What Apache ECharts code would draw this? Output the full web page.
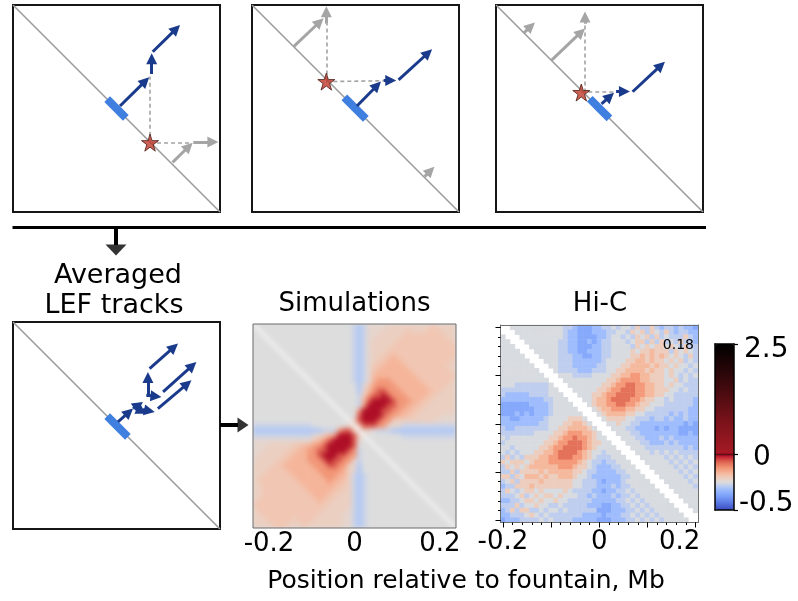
<!DOCTYPE html>
<html>
<head>
<meta charset="utf-8">
<title>Fountain LEF tracks</title>
<script src="https://cdn.jsdelivr.net/npm/echarts@6/dist/echarts.min.js"></script>
<style>
  html, body { margin: 0; padding: 0; background: #ffffff; }
  #stage { position: relative; width: 798px; height: 601px; }
  #simClip { position: absolute; left: 253px; top: 324px; width: 203px; height: 204px; overflow: hidden; }
  #sim { position: absolute; left: -6px; top: -6px; width: 215px; height: 216px; background: #dcdcdc; filter: blur(2.8px); }
  #main { position: absolute; left: 0; top: 0; width: 798px; height: 601px; }
</style>
</head>
<body>
<div id="stage">
  <div id="simClip"><div id="sim"></div></div>
  <div id="main"></div>
</div>
<script>
// ---------------- schematic frames (units 0..100, y grows downward) ----------------
const panelDiagonal = [[0, 0], [100, 100]];

// frame 1
const lefA = [[45.5, 45.5], [54.5, 54.5]];
const starA = [66.2, 66.5];
const tracksA = [[[51.7, 48.8], [65.8, 34.9]], [[67, 33.3], [67, 23.3]], [[67.5, 22.6], [80.7, 9.7]]];
const shadowA = [[[87.1, 66.2], [99.2, 66.2]], [[77.1, 76], [86.8, 66.5]]];
const guidesA = [[[66.2, 66.5], [66.2, 34.6]], [[66.2, 66.5], [86.3, 66.5]]];

// frame 2
const lefB = [[44.6, 44.6], [55, 55]];
const starB = [35.9, 37];
const tracksB = [[[50.7, 48.8], [62.3, 37]], [[63.6, 36.5], [69.7, 36.5]], [[70.8, 36.2], [87, 21.4]]];
const shadowB = [[[20.1, 20.1], [34.6, 6.4]], [[35.9, 9], [35.9, 0.6]], [[83.4, 82.9], [88.1, 78.1]]];
const guidesB = [[[35.9, 37], [35.9, 9]], [[35.9, 37], [63.6, 36.6]]];

// frame 3
const lefC = [[45.3, 45.3], [54.8, 54.8]];
const starC = [41.2, 42.3];
const tracksC = [[[51, 47.8], [57, 42.4]], [[58, 41.8], [64.7, 41.8]], [[66, 41.9], [81.6, 27.4]]];
const shadowC = [[[13.2, 13.7], [18.8, 8.5]], [[26.9, 26.6], [43, 11.3]], [[43, 9], [43, 3.2]]];
const guidesC = [[[42.7, 42.3], [42.7, 9]], [[41.2, 41.8], [58, 41.8]]];

// averaged frame
const lefD = [[45.5, 45.5], [55.5, 55.5]];
const tracksD = [
  [[50.7, 48.3], [58, 41.8]], [[58, 41.8], [62.8, 38.6]], [[65.2, 36.2], [65.2, 24.2]],
  [[66, 22.5], [79.7, 10.4]], [[72.5, 33.8], [88.6, 19.3]], [[70, 41.8], [86.2, 28.2]],
  [[64.4, 35.4], [71.7, 36.2]], [[62.8, 42.3], [68.5, 43.5]], [[61.3, 43.5], [61.3, 39]]
];

// connectors in page pixels
const connectorLines = [[[12.5, 227], [706, 227]]];
const connectorShafts = [[[116, 227], [116, 245]], [[220, 425], [238, 425]]];
const connectorHeads = [[116, 250, 180, 21, 11], [243, 425, -90, 15, 11]];

// ---------------- contact maps ----------------
// colour-scale position: 0 = -0.5, 1 = 0, 3 = 2.5
const hicLevelValues = [0.15, 0.22, 0.29, 0.37, 0.44, 0.49, 0.58, 0.66, 0.75, 0.84];
const simLevelValues = [0.41, 0.46, 0.50, 0.54, 0.57, 0.61, 0.67, 0.76, 0.89, 1.02];

// Hi-C upper triangle, row i starts at column i+2 (diagonal band masked)
const hicUpper = [
  "55555555555 4432223344 5455464464 34434332",
  "5555555555 4332223334 4554656465 46434433",
  "555555555 4332222334 5545465646 45444643",
  "55555554 4332232344 5554566464 64546443",
  "5555554 4332223344 5555465656 65654644",
  "555554 4332233344 5555656676 66465654",
  "55554 4433223344 5555667676 76565464",
  "5554 4433333345 5556677676 65656454",
  "554 4433333445 5566777767 66565545",
  "54 4443334445 5667777676 65655454",
  "5 5544445555 6677887766 65654545",
  "5555555556 6788887766 65564544",
  "555555566 7889988776 65655444",
  "55555667 8899988776 66554544",
  "5556678 8999988776 65544444",
  "556778 9999887665 54544443",
  "56778 8998876655 54444443",
  "5677 8887766554 44444433",
  "567 7776655444 44343433",
  "56 6665544434 43433433",
  "5 5655443333 33333232",
  "5554433332 32332222",
  "555443333 33332232",
  "55544333 43433333",
  "5554433 34343333",
  "555444 44444343",
  "55545 45454444",
  "5555 54545454",
  "555 55454545",
  "55 55545454",
  "5 55554545",
  "55555454",
  "5555545",
  "555554",
  "55555",
  "5555",
  "555",
  "55",
  "5",
  "",
  ""
];

// simulated map upper triangle, row i starts at the diagonal
const simUpper = [
  "2 22222 22222 22222 2222 101 333344444444454444",
  "2 22222 22222 22222 222 101 333444445444555444",
  "2 22222 22222 22222 22 101 334444455555555544",
  "2 22222 22222 22222 2 101 344444555555555554",
  "2 22222 22222 22222 101 344445555555555555",
  "2 22222 22222 2222 101 344455555555555555",
  "2 22222 22222 222 101 344556555555555555",
  "2 22222 22222 22 101 345566655555555554",
  "2 22222 22222 2 101 355666665555555544",
  "2 22222 22222 101 356666666555555554",
  "2 22222 2222 101 366666666655555555",
  "2 22222 222 101 367776666665555554",
  "2 22222 22 2 0 3 577777666666555544",
  "2 22222 2 2 0 3 678877766666655444",
  "2 22222 2 1 5 788987776666554444",
  "2 2222 2 1 6 899998777665544444",
  "2 222 2 1 7 999988776655444444",
  "2 22 2 7 9999887766554444444",
  "2 2 2 89999877665544444333",
  "2 4 89998774444444443333",
  "2 5 888 77 333 11111111111",
  "2 4 3 2 111 0000000000000",
  "2 2222222 11111111111",
  "22222 22222 22222 222",
  "22222 22222 22222 22",
  "22222 22222 22222 2",
  "22222 22222 22222",
  "22222 22222 2222",
  "22222 22222 222",
  "22222 22222 22",
  "22222 22222 2",
  "22222 22222",
  "22222 2222",
  "22222 222",
  "22222 22",
  "22222 2",
  "22222",
  "2222",
  "222",
  "22",
  "2"
];

const binCount = 41;
const simRange = [-0.2375, 0.2375];
const hicRange = [-0.205, 0.205];
const positionTicks = [-0.2, 0, 0.2];
const hicMajorTicks = [-0.2, -0.1, 0, 0.1, 0.2];
const hicMinorTicks = [-0.2, -0.18, -0.16, -0.14, -0.12, -0.1, -0.08, -0.06, -0.04, -0.02, 0,
  0.02, 0.04, 0.06, 0.08, 0.1, 0.12, 0.14, 0.16, 0.18, 0.2];
const colorbarTicks = [0, 1, 3];
const colorbarLabels = ['-0.5', '0', '2.5'];

// ---------------- colour map ----------------
const cmapAnchors = [
  [0.00, '#3b4cc0'], [0.125, '#5977e3'], [0.25, '#7b9ff9'], [0.375, '#9ebeff'],
  [0.50, '#dddddd'], [0.625, '#f5c4ac'], [0.75, '#f49a7b'], [0.875, '#de624e'],
  [1.00, '#b40426'], [1.05, '#a41a24'], [1.6, '#7a121a'], [2.2, '#420a0e'], [3.0, '#000000']
];
function hexRgb(h) { return [1, 3, 5].map(k => parseInt(h.slice(k, k + 2), 16)); }
function cmapAt(p) {
  for (let k = 0; k < cmapAnchors.length - 1; k++) {
    const [p0, c0] = cmapAnchors[k], [p1, c1] = cmapAnchors[k + 1];
    if (p <= p1 || k === cmapAnchors.length - 2) {
      const t = Math.min(1, Math.max(0, (p - p0) / (p1 - p0)));
      const a = hexRgb(c0), b = hexRgb(c1);
      return 'rgb(' + a.map((v, n) => Math.round(v + (b[n] - v) * t)).join(',') + ')';
    }
  }
}
const colorRamp = [];
for (let k = 0; k <= 60; k++) colorRamp.push(cmapAt(k * 0.05));

// ---------------- build cell lists ----------------
const bins = [];
for (let k = 0; k < binCount; k++) bins.push(String(k));

const hicData = [];
hicUpper.forEach((row, i) => {
  const s = row.replace(/\s+/g, '');
  if (s.length !== Math.max(0, binCount - 2 - i)) throw new Error('Hi-C row ' + i + ' has ' + s.length);
  for (let k = 0; k < s.length; k++) {
    const j = i + 2 + k, v = hicLevelValues[+s[k]];
    hicData.push([j, i, v], [i, j, v]);
  }
});

const simData = [];
simUpper.forEach((row, i) => {
  const s = row.replace(/\s+/g, '');
  if (s.length !== binCount - i) throw new Error('sim row ' + i + ' has ' + s.length);
  for (let k = 0; k < s.length; k++) {
    const j = i + k, v = simLevelValues[+s[k]];
    simData.push([j, i, v]);
    if (j !== i) simData.push([i, j, v]);
  }
});

// ---------------- shared styles ----------------
const FONT = '"DejaVu Sans", "Liberation Sans", Arial, sans-serif';
const NAVY = '#1a3a8c';
const GREY = '#a5a5a5';
const LEF_BLUE = '#3f7fe0';
const STAR = 'path://M50,2 L61.2,36.3 L97.6,36.3 L68.2,57.6 L79.4,92 L50,70.7 L20.6,92 L31.8,57.6 L2.4,36.3 L38.8,36.3 Z';
const PANEL_PX = 207;
const HEAD = 11;

// end point pulled back so the triangle tip sits on the drawn end
function arrowData(segs, unitsPerPx) {
  const back = HEAD / 2 * unitsPerPx;
  return segs.map(([a, b]) => {
    const dx = b[0] - a[0], dy = b[1] - a[1];
    const len = Math.hypot(dx, dy) || 1;
    const k = Math.max(0, len - back) / len;
    return { coords: [a, [a[0] + dx * k, a[1] + dy * k]] };
  });
}

// ---------------- main chart ----------------
const grids = [
  { left: 13, top: 5, width: 207, height: 207 },
  { left: 252, top: 5, width: 207, height: 207 },
  { left: 496, top: 5, width: 207, height: 207 },
  { left: 13, top: 322, width: 207, height: 207 },
  { left: 253, top: 324, width: 203, height: 204 },        // 4 simulation frame
  { left: 500.5, top: 325, width: 197.5, height: 197.5 },  // 5 Hi-C cells
  { left: 500.5, top: 325, width: 197.5, height: 197.5 },  // 6 Hi-C major ticks
  { left: 500.5, top: 325, width: 197.5, height: 197.5 },  // 7 Hi-C minor ticks
  { left: 715, top: 344, width: 19, height: 166 },         // 8 colour bar frame
  { left: 0, top: 0, width: 798, height: 601 }             // 9 page
];
grids.forEach((g, k) => {
  if (k < 4) Object.assign(g, { show: true, borderColor: '#161616', borderWidth: 2 });
  if (k === 4) Object.assign(g, { show: true, borderColor: '#6a6a6a', borderWidth: 1 });
});

const hidden = { show: false };
const noLine = { show: false, onZero: false };
const xAxes = [], yAxes = [];
function addAxes(x, y) { xAxes.push(x); yAxes.push(y); return xAxes.length - 1; }

const panelAxis = [];
for (let g = 0; g < 4; g++) {
  panelAxis.push(addAxes(
    { gridIndex: g, type: 'value', min: 0, max: 100, show: false },
    { gridIndex: g, type: 'value', min: 0, max: 100, inverse: true, show: false }));
}
// simulation labels
addAxes({
  gridIndex: 4, type: 'value', min: simRange[0], max: simRange[1], position: 'bottom',
  axisLine: noLine, splitLine: hidden, axisTick: hidden,
  axisLabel: { show: true, customValues: positionTicks, margin: 3, fontSize: 26, fontFamily: FONT, color: '#000',
    formatter: v => (Math.abs(v) < 1e-9 ? '0' : String(v)) }
}, { gridIndex: 4, type: 'value', min: 0, max: 1, show: false });
// Hi-C cells
const hicAxis = addAxes({ gridIndex: 5, type: 'category', data: bins, show: false },
  { gridIndex: 5, type: 'category', data: bins, inverse: true, show: false });
// Hi-C major ticks, labels and frame
const frameLine = { show: true, onZero: false, lineStyle: { color: '#6f6f6f', width: 1 } };
addAxes({
  gridIndex: 6, type: 'value', min: hicRange[0], max: hicRange[1], position: 'bottom', z: 5,
  axisLine: frameLine, splitLine: hidden,
  axisTick: { show: true, customValues: hicMajorTicks, length: 5, lineStyle: { color: '#000', width: 1 } },
  axisLabel: { show: true, customValues: positionTicks, margin: 7, fontSize: 26, fontFamily: FONT, color: '#000',
    formatter: v => (Math.abs(v) < 1e-9 ? '0' : (v > 0 ? '{r|' + v + '}' : String(v))),
    rich: { r: { fontSize: 26, fontFamily: FONT, color: '#000', padding: [0, 32, 0, 0] } } }
}, {
  gridIndex: 6, type: 'value', min: hicRange[0], max: hicRange[1], position: 'left', z: 5,
  axisLine: frameLine, splitLine: hidden, axisLabel: hidden,
  axisTick: { show: true, customValues: hicMajorTicks, length: 5, lineStyle: { color: '#000', width: 1 } }
});
addAxes({ gridIndex: 6, type: 'value', min: hicRange[0], max: hicRange[1], position: 'top', z: 5,
  axisLine: frameLine, splitLine: hidden, axisTick: hidden, axisLabel: hidden },
  { gridIndex: 6, type: 'value', min: hicRange[0], max: hicRange[1], position: 'right', z: 5,
  axisLine: frameLine, splitLine: hidden, axisTick: hidden, axisLabel: hidden });
// Hi-C minor ticks
addAxes({
  gridIndex: 7, type: 'value', min: hicRange[0], max: hicRange[1], position: 'bottom', z: 5,
  axisLine: noLine, splitLine: hidden, axisLabel: hidden,
  axisTick: { show: true, customValues: hicMinorTicks, length: 2.5, lineStyle: { color: '#000', width: 1 } }
}, {
  gridIndex: 7, type: 'value', min: hicRange[0], max: hicRange[1], position: 'left', z: 5,
  axisLine: noLine, splitLine: hidden, axisLabel: hidden,
  axisTick: { show: true, customValues: hicMinorTicks, length: 2.5, lineStyle: { color: '#000', width: 1 } }
});
// colour bar frame and labels
const barLine = { show: true, onZero: false, lineStyle: { color: '#000', width: 1.5 } };
const barAxis = addAxes({ gridIndex: 8, type: 'value', min: 0, max: 1, position: 'bottom', z: 5,
  axisLine: barLine, splitLine: hidden, axisTick: hidden, axisLabel: hidden }, {
  gridIndex: 8, type: 'value', min: 0, max: 3, position: 'right', z: 5,
  axisLine: barLine, splitLine: hidden,
  axisTick: { show: true, customValues: colorbarTicks, length: 4, lineStyle: { color: '#000', width: 1.2 } },
  axisLabel: {
    show: true, customValues: colorbarTicks, margin: 5, fontSize: 28, fontFamily: FONT, color: '#000',
    formatter: v => { const k = colorbarTicks.indexOf(v); return '{c' + k + '|' + colorbarLabels[k] + '}'; },
    rich: {
      c0: { fontSize: 28, fontFamily: FONT, color: '#000', padding: [0, 0, 12, 0] },
      c1: { fontSize: 28, fontFamily: FONT, color: '#000', padding: [6, 0, 0, 14] },
      c2: { fontSize: 28, fontFamily: FONT, color: '#000', padding: [12, 0, 0, 5] }
    }
  }
});
addAxes({ gridIndex: 8, type: 'value', min: 0, max: 1, position: 'top', z: 5,
  axisLine: barLine, splitLine: hidden, axisTick: hidden, axisLabel: hidden },
  { gridIndex: 8, type: 'value', min: 0, max: 3, position: 'left', z: 5,
  axisLine: barLine, splitLine: hidden, axisTick: hidden, axisLabel: hidden });
// page
const pageAxis = addAxes({ gridIndex: 9, type: 'value', min: 0, max: 798, show: false },
  { gridIndex: 9, type: 'value', min: 0, max: 601, inverse: true, show: false });

const series = [];
function linesSeries(axis, data, style, withHead, z) {
  series.push({
    type: 'lines', coordinateSystem: 'cartesian2d', xAxisIndex: axis, yAxisIndex: axis, silent: true,
    symbol: withHead ? ['none', 'triangle'] : 'none', symbolSize: HEAD,
    lineStyle: Object.assign({ opacity: 1, curveness: 0 }, style), data: data, z: z || 2,
    animation: false
  });
}
function frame(axis, lef, star, tracks, shadows, guides) {
  const u = 100 / PANEL_PX;
  linesSeries(axis, [{ coords: panelDiagonal }], { color: '#9c9c9c', width: 1.6 }, false, 2);
  if (guides) linesSeries(axis, guides.map(c => ({ coords: c })), { color: '#a3a3a3', width: 1.6, type: [4, 3] }, false, 2);
  if (shadows) linesSeries(axis, arrowData(shadows, u), { color: GREY, width: 3 }, true, 3);
  linesSeries(axis, [{ coords: lef }], { color: LEF_BLUE, width: 8, cap: 'butt' }, false, 3);
  linesSeries(axis, arrowData(tracks, u), { color: NAVY, width: 3 }, true, 4);
  if (star) series.push({
    type: 'scatter', xAxisIndex: axis, yAxisIndex: axis, silent: true, data: [star],
    symbol: STAR, symbolSize: 17, z: 5,
    itemStyle: { color: '#c0392b', borderColor: '#4a1a14', borderWidth: 1 }
  });
}
frame(panelAxis[0], lefA, starA, tracksA, shadowA, guidesA);
frame(panelAxis[1], lefB, starB, tracksB, shadowB, guidesB);
frame(panelAxis[2], lefC, starC, tracksC, shadowC, guidesC);
frame(panelAxis[3], lefD, null, tracksD, null, null);

const hicIndex = series.length;
series.push({ type: 'heatmap', xAxisIndex: hicAxis, yAxisIndex: hicAxis, data: hicData, progressive: 0,
  silent: true, emphasis: { disabled: true } });

// zero line across the colour bar
linesSeries(barAxis, [{ coords: [[0, 1], [1, 1]] }], { color: '#5a1214', width: 1.3 }, false, 3);

// connectors
linesSeries(pageAxis, connectorLines.map(c => ({ coords: c })), { color: '#000', width: 3 }, false, 2);
linesSeries(pageAxis, connectorShafts.map(c => ({ coords: c })), { color: '#000', width: 4 }, false, 2);
connectorHeads.forEach(h => series.push({
  type: 'scatter', xAxisIndex: pageAxis, yAxisIndex: pageAxis, silent: true, data: [[h[0], h[1]]],
  symbol: 'triangle', symbolRotate: h[2], symbolSize: [h[3], h[4]], itemStyle: { color: '#000' }, z: 3
}));

function label(text, x, y, size, align) {
  return {
    type: 'text', x: x, y: y, silent: true, z: 100,
    style: { text: text, fill: '#000', fontSize: size, fontFamily: FONT,
      textAlign: align || 'center', align: align || 'center', textVerticalAlign: 'middle', verticalAlign: 'middle' }
  };
}

const main = echarts.init(document.getElementById('main'));
main.setOption({
  animation: false,
  grid: grids,
  xAxis: xAxes,
  yAxis: yAxes,
  visualMap: [{
    type: 'continuous', show: true, min: 0, max: 3, calculable: false, realtime: false, hoverLink: false,
    seriesIndex: [hicIndex], dimension: 2, left: 715, top: 344, itemWidth: 19, itemHeight: 166,
    padding: 0, inRange: { color: colorRamp }, z: 1
  }],
  series: series,
  graphic: [
    label('Averaged', 118, 276, 27),
    label('LEF tracks', 114, 306, 27),
    label('Simulations', 354.5, 304, 26),
    label('Hi-C', 600, 304, 26),
    label('0.18', 694, 345.5, 14, 'right'),
    label('Position relative to fountain, Mb', 466, 581, 25)
  ]
});

// ---------------- simulated map (soft-rendered beneath) ----------------
const sim = echarts.init(document.getElementById('sim'));
sim.setOption({
  animation: false,
  grid: [{ left: 6, top: 6, right: 6, bottom: 6 }],
  xAxis: [{ type: 'category', data: bins, show: false }, { type: 'value', min: 0, max: 1, show: false }],
  yAxis: [{ type: 'category', data: bins, inverse: true, show: false },
          { type: 'value', min: 0, max: 1, inverse: true, show: false }],
  visualMap: [{ type: 'continuous', show: false, min: 0, max: 3, seriesIndex: 0, dimension: 2,
    inRange: { color: colorRamp } }],
  series: [
    { type: 'heatmap', data: simData, progressive: 0, silent: true, emphasis: { disabled: true } },
    { type: 'lines', coordinateSystem: 'cartesian2d', xAxisIndex: 1, yAxisIndex: 1, silent: true,
      symbol: 'none', lineStyle: { color: '#f6f6f6', width: 2.6, opacity: 1 },
      data: [{ coords: [[0, 0], [1, 1]] }] }
  ]
});
</script>
</body>
</html>
